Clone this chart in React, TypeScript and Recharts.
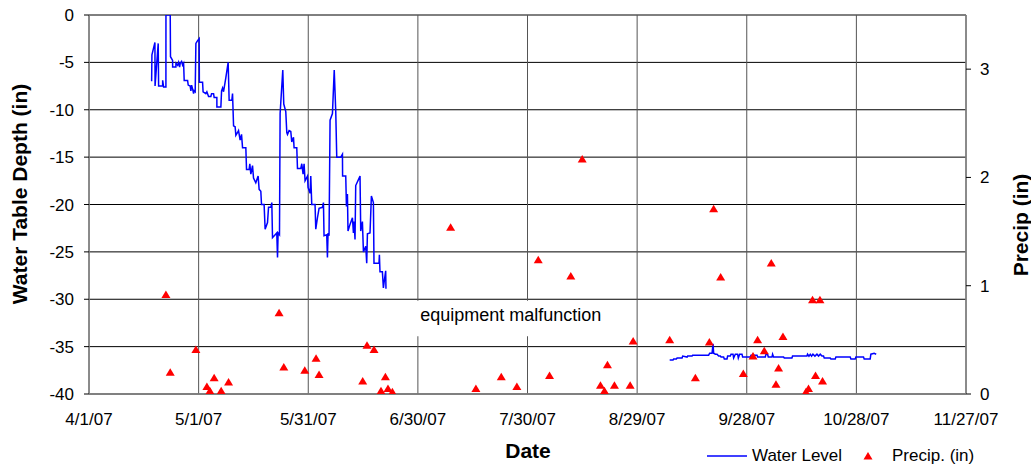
import {
  CartesianGrid,
  ComposedChart,
  Label,
  Legend,
  Line,
  ReferenceArea,
  Scatter,
  XAxis,
  YAxis,
} from 'recharts';

// x values are days after 4/1/07
const xTicks = [0, 30, 60, 90, 120, 150, 180, 210, 240];
const xTickLabels = ['4/1/07', '5/1/07', '5/31/07', '6/30/07', '7/30/07', '8/29/07', '9/28/07', '10/28/07', '11/27/07'];
const depthTicks = [-40, -35, -30, -25, -20, -15, -10, -5, 0];
const precipTicks = [0, 1, 2, 3];

// water table depth (in), spring record before the equipment failed
const springLevel: [number, number][] = [
  [17.14, -7.0], [17.22, -4.2], [18.04, -2.9], [18.08, -7.5], [18.94, -3.0], [19.05, -7.5],
  [20.15, -7.5], [20.16, -6.9], [20.42, -7.6], [21.05, -7.6], [21.06, 0], [22.23, 0],
  [22.3, -4.4], [22.88, -4.8], [22.89, -5.5], [23.78, -5.5], [23.79, -5.1], [24.25, -5.3],
  [24.52, -5.0], [24.8, -5.5], [24.96, -5.1], [25.34, -4.9], [25.62, -5.3], [25.89, -5.1],
  [26.05, -6.9], [26.98, -6.9], [27.15, -7.4], [27.69, -7.5], [27.88, -8.0], [28.07, -7.4],
  [28.35, -7.8], [28.62, -8.3], [28.79, -8.0], [29.06, -8.1], [29.25, -3.0], [29.72, -2.7],
  [30.15, -2.5], [30.2, -7.1], [31.08, -7.1], [31.22, -8.1], [31.98, -8.3], [32.26, -8.1],
  [32.72, -8.6], [33.35, -8.6], [33.54, -8.3], [34.09, -8.3], [34.25, -8.7], [34.99, -8.7],
  [35.0, -9.7], [36.09, -9.7], [36.28, -8.0], [36.55, -7.7], [36.82, -8.1], [36.99, -7.7],
  [37.45, -6.6], [38.08, -5.0], [38.35, -9.0], [39.09, -9.0], [39.28, -8.3], [39.56, -11.7],
  [39.99, -11.8], [40.19, -12.7], [40.65, -12.4], [40.92, -12.2], [41.36, -13.2], [41.74, -12.6],
  [42.02, -14.0], [42.92, -14.0], [43.11, -16.3], [43.82, -16.3], [44.01, -15.7], [44.29, -16.8],
  [44.75, -15.9], [45.02, -17.2], [45.65, -17.7], [46.28, -17.0], [46.56, -18.4], [47.02, -18.6],
  [47.21, -20.0], [47.92, -20.0], [48.2, -22.6], [48.85, -21.9], [49.13, -20.3], [49.75, -20.3],
  [50.03, -19.8], [50.22, -23.5], [51.39, -23.0], [51.59, -25.6], [51.75, -23.0], [52.13, -23.2],
  [52.3, -10.4], [53.03, -5.8], [53.3, -9.4], [53.85, -10.2], [54.13, -12.4], [54.32, -12.6],
  [54.76, -12.2], [55.22, -12.3], [55.49, -13.4], [55.96, -12.9], [56.12, -14.0], [56.86, -14.0],
  [57.05, -16.2], [57.96, -16.2], [58.23, -15.7], [58.58, -16.8], [58.86, -15.7], [59.13, -17.5],
  [59.79, -17.0], [59.95, -18.2], [60.5, -18.8], [60.69, -17.0], [60.96, -20.0], [61.86, -20.0],
  [62.06, -22.6], [62.52, -21.4], [62.96, -20.4], [63.89, -20.3], [64.16, -19.8], [64.32, -23.3],
  [65.06, -23.2], [65.25, -25.6], [65.42, -23.0], [65.69, -23.3], [65.97, -11.1], [66.62, -10.4],
  [67.11, -5.8], [67.52, -10.1], [67.8, -15.0], [68.89, -15.0], [69.36, -14.7], [69.4, -17.0],
  [70.26, -17.0], [70.45, -20.2], [70.72, -18.9], [70.88, -22.8], [71.43, -22.1], [72.09, -21.4],
  [72.36, -23.0], [72.53, -21.8], [72.8, -23.7], [72.99, -18.0], [74.17, -17.0], [74.36, -22.8],
  [74.82, -21.8], [75.1, -25.0], [75.73, -24.4], [76.0, -26.2], [76.19, -23.1], [76.9, -23.0],
  [77.28, -19.1], [77.83, -19.8], [77.99, -26.2], [79.36, -26.2], [79.47, -25.3], [79.63, -27.1],
  [80.29, -27.1], [80.56, -28.8], [80.73, -28.3], [81.19, -27.0], [81.27, -28.9],
];

// water table depth (in), fall record after repair
const fallLevel: [number, number][] = [
  [158.91, -36.4], [159.84, -36.4], [160.0, -36.3], [160.74, -36.3], [160.94, -36.2], [162.3, -36.2],
  [162.47, -36.0], [163.67, -36.1], [163.83, -36.0], [165.04, -36.0], [165.2, -35.9], [169.57, -35.9],
  [169.85, -35.7], [170.5, -35.7], [170.78, -34.7], [170.94, -35.7], [171.41, -35.8], [171.87, -35.8],
  [172.31, -36.0], [172.77, -36.0], [172.96, -36.1], [173.67, -36.1], [173.86, -36.3], [174.6, -36.3],
  [174.77, -36.0], [175.51, -36.0], [175.7, -35.8], [176.24, -35.8], [176.41, -36.2], [176.87, -35.8],
  [177.5, -35.8], [177.69, -36.2], [178.05, -35.8], [178.7, -35.8], [178.87, -36.1], [180.97, -36.1],
  [181.17, -35.9], [182.81, -35.9], [182.97, -36.1], [185.07, -36.1], [185.27, -35.8], [185.7, -35.8],
  [185.89, -36.1], [186.9, -36.1], [187.07, -35.8], [187.34, -36.1], [190.08, -36.1], [190.27, -36.2],
  [192.37, -36.2], [192.53, -36.0], [196.47, -36.0], [196.64, -35.8], [197.02, -36.0], [197.38, -35.8],
  [197.73, -36.0], [198.11, -35.8], [198.66, -36.0], [199.21, -35.8], [199.65, -36.0], [200.11, -35.8],
  [200.57, -36.0], [201.01, -36.0], [201.2, -36.2], [202.84, -36.2], [203.03, -36.3], [204.21, -36.3],
  [204.4, -36.1], [208.31, -36.1], [208.5, -36.3], [209.68, -36.3], [209.87, -36.1], [211.95, -36.1],
  [212.14, -36.3], [213.78, -36.3], [213.97, -35.8], [214.87, -35.7], [215.42, -35.8],
];

// daily precipitation (in)
const precip: [number, number][] = [
  [21.05, 0.92], [22.23, 0.2], [29.25, 0.41], [32.26, 0.07], [33.08, 0.03], [34.25, 0.15],
  [36.17, 0.03], [38.19, 0.11], [52.02, 0.75], [53.31, 0.25], [59.05, 0.22], [62.14, 0.33],
  [62.96, 0.18], [74.9, 0.12], [76.08, 0.45], [78.0, 0.41], [79.91, 0.03], [81.11, 0.16],
  [81.82, 0.05], [83.02, 0.02], [98.96, 1.54], [105.88, 0.05], [112.82, 0.16], [117.09, 0.07],
  [122.94, 1.24], [126.03, 0.17], [131.85, 1.09], [134.97, 2.17], [139.97, 0.08],
  [141.06, 0.03], [141.88, 0.27], [143.79, 0.08], [148.09, 0.08], [148.91, 0.49], [158.91, 0.5],
  [165.94, 0.15], [169.77, 0.48], [170.94, 1.71], [172.86, 1.08], [179.06, 0.19], [181.71, 0.35],
  [182.97, 0.5], [184.8, 0.4], [186.71, 1.21], [188.0, 0.09], [188.71, 0.24], [189.91, 0.53],
  [196.2, 0.02], [196.9, 0.05], [198.0, 0.87], [198.82, 0.17], [200.03, 0.87], [200.74, 0.12],
];

const levelData = [
  ...springLevel.map(([day, depth]) => ({ day, depth })),
  { day: 120, depth: null },
  ...fallLevel.map(([day, depth]) => ({ day, depth })),
];
const precipData = precip.map(([day, inches]) => ({ day, inches }));

const BLUE = '#0000ff';
const RED = '#ff0000';
const tickStyle = { fill: '#000', fontSize: 17 };

function Triangle(props: any) {
  const { cx, cy } = props;
  if (cx == null || cy == null) return null;
  return <path d={`M${cx},${cy - 4}L${cx + 4.5},${cy + 3.5}L${cx - 4.5},${cy + 3.5}Z`} fill={RED} />;
}

function LegendBox({ payload }: any) {
  const items = payload ?? [];
  const line = items.find((p: any) => p.type === 'plainline');
  const tri = items.find((p: any) => p.type === 'triangle');
  return (
    <svg width={331} height={26}>
      <line x1={7} x2={47} y1={13} y2={13} stroke={BLUE} strokeWidth={1.5} />
      <text x={52} y={18} fontSize={17} fill="#000">{line?.value}</text>
      <path d="M168,9L172.5,16.5L163.5,16.5Z" fill={RED} />
      <text x={192} y={18} fontSize={17} fill="#000">{tri?.value}</text>
    </svg>
  );
}

function Title({ x, y, angle = 0, text }: { x: number; y: number; angle?: number; text: string }) {
  return (
    <text
      x={x}
      y={y}
      transform={`rotate(${angle} ${x} ${y})`}
      textAnchor="middle"
      dominantBaseline="central"
      fontWeight="bold"
      fontSize={21}
      fill="#000"
    >
      {text}
    </text>
  );
}

export default function App() {
  return (
    <div
      style={{
        position: 'absolute',
        left: 0,
        top: 0,
        width: 1031,
        height: 464,
        background: '#fff',
        fontFamily: '"Liberation Sans", Arial, sans-serif',
      }}
    >
      <ComposedChart width={1031} height={464} margin={{ top: 15, right: 0, bottom: 0, left: 0 }}>
        <CartesianGrid vertical={false} stroke="#000" strokeOpacity={1} />
        <CartesianGrid horizontal={false} stroke="#555" strokeOpacity={1} />
        <XAxis
          dataKey="day"
          type="number"
          domain={[0, 240]}
          ticks={xTicks}
          allowDataOverflow
          height={70}
          tickLine={false}
          tickSize={5}
          tickMargin={14}
          axisLine={{ stroke: '#808080', strokeWidth: 1.5 }}
          tick={tickStyle}
          tickFormatter={(v: number) => xTickLabels[xTicks.indexOf(v)] ?? ''}
          interval={0}
        >
          <Label content={() => <Title x={528} y={450} text="Date" />} />
        </XAxis>
        <YAxis
          dataKey="depth"
          type="number"
          domain={[-40, 0]}
          ticks={depthTicks}
          allowDataOverflow
          width={89}
          tickSize={5}
          tickMargin={10}
          tickLine={{ stroke: '#000' }}
          axisLine={{ stroke: '#808080', strokeWidth: 1.5 }}
          tick={tickStyle}
          interval={0}
        >
          <Label content={() => <Title x={19} y={194} angle={-90} text="Water Table Depth (in)" />} />
        </YAxis>
        <YAxis
          yAxisId="right"
          orientation="right"
          dataKey="inches"
          type="number"
          domain={[0, 3.5]}
          ticks={precipTicks}
          allowDataOverflow
          width={65}
          tickSize={5}
          tickMargin={9}
          tickLine={{ stroke: '#000' }}
          axisLine={{ stroke: '#808080', strokeWidth: 1.5 }}
          tick={tickStyle}
          interval={0}
        >
          <Label content={() => <Title x={1020} y={225} angle={-90} text="Precip (in)" />} />
        </YAxis>
        <Line
          data={levelData}
          dataKey="depth"
          name="Water Level"
          type="linear"
          stroke={BLUE}
          strokeWidth={1.5}
          dot={false}
          activeDot={false}
          legendType="plainline"
          isAnimationActive={false}
        />
        <Scatter
          data={precipData}
          dataKey="inches"
          yAxisId="right"
          name="Precip. (in)"
          fill={RED}
          shape={Triangle}
          legendType="triangle"
          isAnimationActive={false}
        />
        <ReferenceArea
          x1={88.6}
          x2={142.2}
          y1={-33.9}
          y2={-30.15}
          fill="#fff"
          fillOpacity={1}
          stroke="none"
          ifOverflow="visible"
        >
          <Label value="equipment malfunction" position="center" dy={-4} fontSize={18} fill="#000" />
        </ReferenceArea>
        <Legend
          layout="horizontal"
          verticalAlign="middle"
          align="center"
          wrapperStyle={{ left: 700, top: 443, width: 331, height: 26 }}
          content={LegendBox}
        />
      </ComposedChart>
    </div>
  );
}
